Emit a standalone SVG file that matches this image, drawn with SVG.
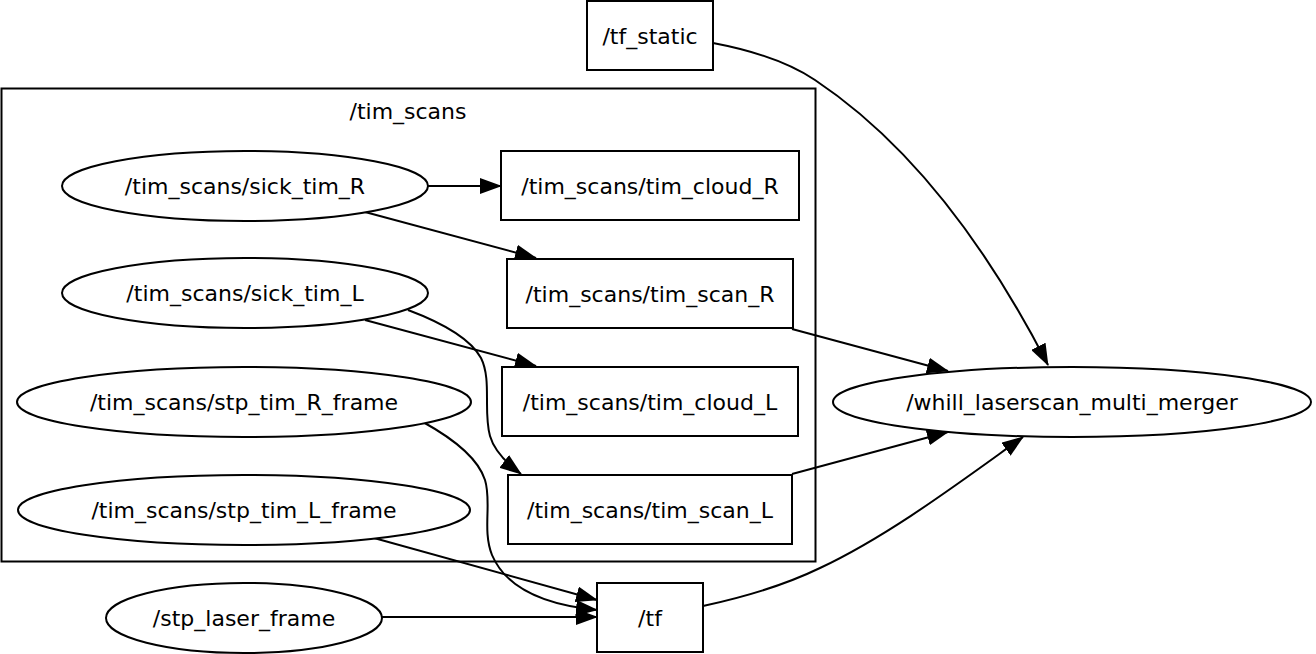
<svg xmlns="http://www.w3.org/2000/svg" width="1316" height="654" viewBox="0 0 1316 654">
<style>
text{font-family:"DejaVu Sans","Liberation Sans",sans-serif;font-size:22px;fill:#000;text-anchor:middle}
.n{fill:#fff;stroke:#000;stroke-width:2}
.e{fill:none;stroke:#000;stroke-width:2;marker-end:url(#ah)}
.c{fill:none;stroke:#000;stroke-width:2}
</style>
<defs>
<marker id="ah" markerUnits="userSpaceOnUse" markerWidth="22" markerHeight="16" viewBox="0 0 22 16" refX="21" refY="8" orient="auto">
<path d="M0,0 L22,8 L0,16 z" fill="#000"/>
</marker>
</defs>
<rect width="1316" height="654" fill="#fff"/>
<g id="cluster_tim_scans">
<rect class="c" x="1.5" y="88.5" width="814" height="473"/>
<text x="408" y="119">/tim_scans</text>
</g>
<g id="connectors">
<path class="e" d="M428,186 L501,186"/>
<path class="e" d="M365,212 L536,258"/>
<path class="e" d="M365,320 L536,366"/>
<path class="e" d="M408,310 C440,322 470,338 481,358 C492,380 483,412 490,436 C494,450 505,462 521,474"/>
<path class="e" d="M423,422 C452,438 478,458 485,480 C492,502 482,530 492,555 C506,588 545,605 597,610"/>
<path class="e" d="M374,538 L597,600"/>
<path class="e" d="M382,617 L597,617"/>
<path class="e" d="M792,329 L948,371"/>
<path class="e" d="M792,474 L948,432"/>
<path class="e" d="M713,43 C750,50 785,60 815,80 C920,150 995,262 1048,365"/>
<path class="e" d="M703,606 C740,598 785,585 820,568 C890,535 960,482 1023,437"/>
</g>
<g id="tf_static">
<rect class="n" x="587" y="1" width="126" height="69"/>
<text x="650" y="44">/tf_static</text>
</g>
<g id="sick_tim_R">
<ellipse class="n" cx="245" cy="186" rx="183" ry="35"/>
<text x="245" y="194">/tim_scans/sick_tim_R</text>
</g>
<g id="sick_tim_L">
<ellipse class="n" cx="245" cy="293" rx="183" ry="35"/>
<text x="245" y="301">/tim_scans/sick_tim_L</text>
</g>
<g id="stp_tim_R_frame">
<ellipse class="n" cx="244" cy="402" rx="227" ry="35"/>
<text x="244" y="410">/tim_scans/stp_tim_R_frame</text>
</g>
<g id="stp_tim_L_frame">
<ellipse class="n" cx="244" cy="510" rx="226" ry="35"/>
<text x="244" y="518">/tim_scans/stp_tim_L_frame</text>
</g>
<g id="stp_laser_frame">
<ellipse class="n" cx="244" cy="618" rx="138" ry="35"/>
<text x="244" y="626">/stp_laser_frame</text>
</g>
<g id="tim_cloud_R">
<rect class="n" x="501" y="151" width="298" height="69"/>
<text x="650" y="194">/tim_scans/tim_cloud_R</text>
</g>
<g id="tim_scan_R">
<rect class="n" x="507" y="259" width="286" height="69"/>
<text x="650" y="302">/tim_scans/tim_scan_R</text>
</g>
<g id="tim_cloud_L">
<rect class="n" x="502" y="367" width="296" height="69"/>
<text x="650" y="410">/tim_scans/tim_cloud_L</text>
</g>
<g id="tim_scan_L">
<rect class="n" x="508" y="475" width="284" height="69"/>
<text x="650" y="518">/tim_scans/tim_scan_L</text>
</g>
<g id="whill_laserscan_multi_merger">
<ellipse class="n" cx="1072" cy="402" rx="239" ry="35"/>
<text x="1072" y="410">/whill_laserscan_multi_merger</text>
</g>
<g id="tf">
<rect class="n" x="597" y="583" width="106" height="69"/>
<text x="650" y="626">/tf</text>
</g>
</svg>
